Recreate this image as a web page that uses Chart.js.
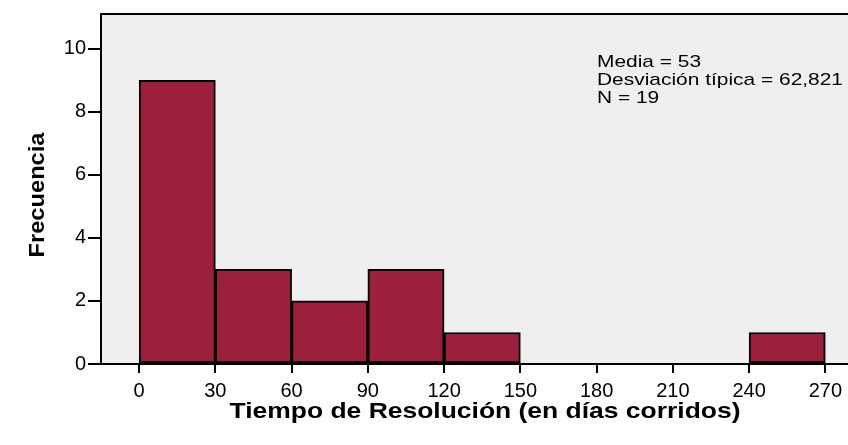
<!DOCTYPE html>
<html>
<head>
<meta charset="utf-8">
<script src="https://cdn.jsdelivr.net/npm/chart.js@4/dist/chart.umd.min.js"></script>
<style>
  html, body { margin: 0; padding: 0; background: #ffffff; }
  #wrap { width: 848px; height: 445px; }
</style>
</head>
<body>
<div id="wrap"><canvas id="histo"></canvas></div>
<script>
// datos del histograma (centros de clase, ancho 30)
var binCenters = [15, 45, 75, 105, 135, 165, 195, 225, 255];
var frecuencias = [9, 3, 2, 3, 1, null, null, null, 1];
var xTicks = [0, 30, 60, 90, 120, 150, 180, 210, 240, 270];
var yTicks = [0, 2, 4, 6, 8, 10];
var statsLines = ["Media = 53", "Desviación típica = 62,821", "N = 19"];
var xTitle = "Tiempo de Resolución (en días corridos)";
var yTitle = "Frecuencia";

var data = binCenters.map(function (c, i) {
  return { x: c, y: frecuencias[i] };
});

var FONT = "'Liberation Sans', Arial, sans-serif";

// texto estirado horizontalmente hasta un ancho dado (las fuentes de SPSS son mas anchas)
function stretchText(ctx, text, x, y, width, align) {
  var w = ctx.measureText(text).width;
  var sx = width / w;
  ctx.save();
  ctx.translate(x, y);
  ctx.scale(sx, 1);
  ctx.textAlign = "left";
  var start = align === "center" ? -w / 2 : 0;
  ctx.fillText(text, start, 0);
  ctx.restore();
}

// fondo gris del area, borde superior, cuadro de estadisticos y titulos
var plotBox = {
  id: "plotBox",
  beforeDraw: function (chart) {
    var a = chart.chartArea;
    var ctx = chart.ctx;
    ctx.save();
    ctx.fillStyle = "#efefef";
    ctx.fillRect(a.left, a.top, chart.width - a.left, a.bottom - a.top);
    ctx.strokeStyle = "#000";
    ctx.lineWidth = 2;
    ctx.beginPath();
    ctx.moveTo(a.left, a.top);
    ctx.lineTo(chart.width, a.top);
    ctx.moveTo(a.left, a.bottom);
    ctx.lineTo(chart.width, a.bottom);
    ctx.stroke();
    ctx.restore();
  },
  afterDraw: function (chart) {
    var ctx = chart.ctx;
    ctx.save();
    ctx.fillStyle = "#000";
    ctx.textBaseline = "alphabetic";

    ctx.font = "17px " + FONT;
    var widest = Math.max.apply(null, statsLines.map(function (t) { return ctx.measureText(t).width; }));
    var sx = 246 / widest;
    statsLines.forEach(function (t, i) {
      stretchText(ctx, t, 597, 67 + i * 18, ctx.measureText(t).width * sx, "left");
    });

    ctx.font = "bold 22px " + FONT;
    stretchText(ctx, xTitle, 485, 418, 511, "center");

    ctx.translate(44, 195);
    ctx.rotate(-Math.PI / 2);
    stretchText(ctx, yTitle, 0, 0, 125, "center");
    ctx.restore();
  }
};

new Chart(document.getElementById("histo"), {
  type: "bar",
  data: {
    datasets: [{
      data: data,
      backgroundColor: "#9c1f3c",
      borderColor: "#000",
      borderWidth: 2,
      borderSkipped: false,
      barPercentage: 1,
      categoryPercentage: 1,
      grouped: false
    }]
  },
  options: {
    responsive: true,
    maintainAspectRatio: false,
    animation: false,
    layout: { padding: { top: 12, right: 0, left: 0, bottom: 0 } },
    plugins: { legend: { display: false }, tooltip: { enabled: false } },
    scales: {
      x: {
        type: "linear",
        offset: false,
        min: -15,
        max: 276.4,
        afterBuildTicks: function (s) {
          s.ticks = xTicks.map(function (v) { return { value: v }; });
        },
        afterFit: function (s) { s.height = 81; },
        grid: { offset: false, drawOnChartArea: false, drawTicks: true, tickLength: 9, color: "#000", lineWidth: 2 },
        border: { color: "#000", width: 2 },
        ticks: {
          color: "#000",
          padding: 6,
          maxRotation: 0,
          font: { family: FONT, size: 20 }
        }
      },
      y: {
        min: 0,
        max: 11.1,
        afterBuildTicks: function (s) {
          s.ticks = yTicks.map(function (v) { return { value: v }; });
        },
        afterFit: function (s) { s.width = 101; },
        grid: { drawOnChartArea: false, drawTicks: true, tickLength: 13, color: "#000", lineWidth: 2 },
        border: { color: "#000", width: 2 },
        ticks: {
          color: "#000",
          padding: 2,
          font: { family: FONT, size: 20 }
        }
      }
    }
  },
  plugins: [plotBox]
});
</script>
</body>
</html>
